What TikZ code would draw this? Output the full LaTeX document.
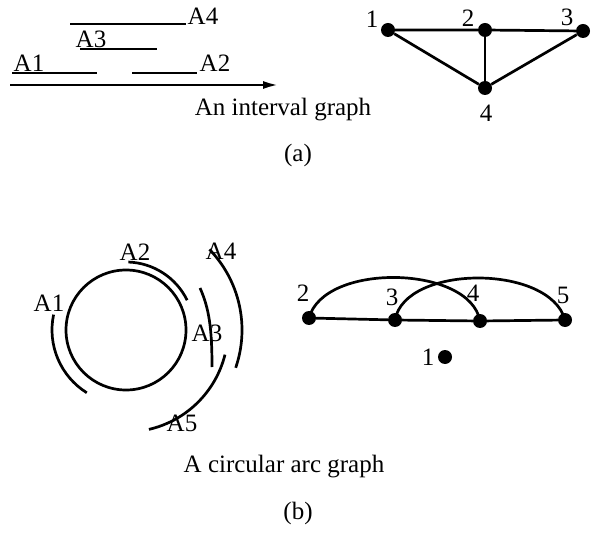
\documentclass[tikz,border=0pt]{standalone}
\usepackage{fontspec}
\setmainfont{Liberation Serif}
\usetikzlibrary{arrows.meta}
\begin{document}
\begin{tikzpicture}[x=1pt,y=1pt,
  ln/.style={line width=2.7pt},
  lbl/.style={inner sep=0pt,font=\fontsize{25}{30}\selectfont},
  vtx/.style={circle,fill=black,inner sep=0pt,minimum size=14pt}]
\useasboundingbox (0,0) rectangle (596,533);
% ---------- (a) interval representation ----------
\node[lbl] (lA4) at (203,517) {A4};
\node[lbl] (lA3) at (91,494) {A3};
\node[lbl] (lA1) at (29,470) {A1};
\node[lbl] (lA2) at (215,470) {A2};
\coordinate (i4s) at (70,509);  \coordinate (i4e) at (186,509);
\coordinate (i3s) at (80,484);  \coordinate (i3e) at (157,484);
\coordinate (i1s) at (12,460);  \coordinate (i1e) at (97,460);
\coordinate (i2s) at (132,460); \coordinate (i2e) at (197,460);
\coordinate (axs) at (10,448);  \coordinate (axe) at (279,448);
\draw[ln] (i4s) -- (i4e);
\draw[ln] (i3s) -- (i3e);
\draw[ln] (i1s) -- (i1e);
\draw[ln] (i2s) -- (i2e);
\draw[ln,-{Latex[length=16pt,width=8pt]}] (axs) -- (axe);
\node[lbl] (capa) at (283,423) {An interval graph};
\node[lbl] (ta) at (298,378) {(a)};
% ---------- (a) graph ----------
\node[vtx] (a1) at (388,503) {};
\node[vtx] (a2) at (485,503) {};
\node[vtx] (a3) at (583,502) {};
\node[vtx] (a4) at (485,445) {};
\node[lbl] (la1) at (372,514) {1};
\node[lbl] (la2) at (468,515) {2};
\node[lbl] (la3) at (567,516) {3};
\node[lbl] (la4) at (486,420) {4};
\draw[ln] (a1) -- (a2) -- (a3) -- (a4) -- (a1);
\draw[ln] (a2) -- (a4);
% ---------- (b) circular arcs ----------
\coordinate (c) at (126,203);
\node[circle,draw,line width=2.7pt,minimum size=120pt,inner sep=0pt] (circ) at (c) {};
\draw[ln] ([shift={(168:74)}]c) arc[start angle=168,end angle=238,radius=74];
\draw[ln] ([shift={(88:68)}]c) arc[start angle=88,end angle=26,radius=68];
\coordinate (a3s) at (200,245); \coordinate (a3e) at (212,166);
\draw[ln] (a3s) .. controls (209,225) and (212,205) .. (a3e);
\draw[ln] ([shift={(44:116)}]c) arc[start angle=44,end angle=-19,radius=116];
\draw[ln] ([shift={(-14:102)}]c) arc[start angle=-14,end angle=-77,radius=102];
\node[lbl] (bA1) at (49,230) {A1};
\node[lbl] (bA2) at (135,281) {A2};
\node[lbl] (bA3) at (207,200) {A3};
\node[lbl] (bA4) at (221,282) {A4};
\node[lbl] (bA5) at (182,110) {A5};
\node[lbl] (capb) at (284,66) {A circular arc graph};
\node[lbl] (tb) at (298,20) {(b)};
% ---------- (b) graph ----------
\node[vtx] (b2) at (309,215) {};
\node[vtx] (b3) at (395,213) {};
\node[vtx] (b4) at (480,212) {};
\node[vtx] (b5) at (565,213) {};
\node[vtx] (b1) at (445,176) {};
\node[lbl] (lb2) at (303,240) {2};
\node[lbl] (lb3) at (392,236) {3};
\node[lbl] (lb4) at (473,240) {4};
\node[lbl] (lb5) at (563,238) {5};
\node[lbl] (lb1) at (428,176) {1};
\draw[ln] (b2) -- (b3) -- (b4) -- (b5);
\draw[ln] (b2.center) .. controls +(15,56) and +(-10,56) .. (b4.center);
\draw[ln] (b3.center) .. controls +(10,56) and +(-15,56) .. (b5.center);
\end{tikzpicture}
\end{document}
